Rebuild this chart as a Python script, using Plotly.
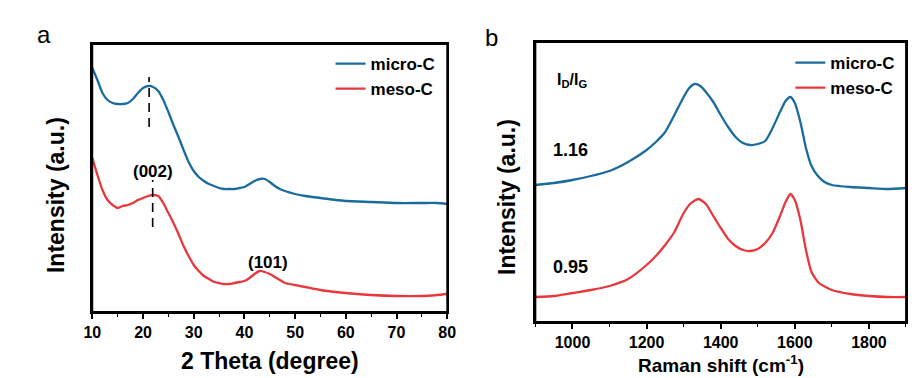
import plotly.graph_objects as go

# ---------------- data ----------------
# Panel a: XRD
xrd_theta = list(range(10, 49)) + [50, 52, 55, 58, 60, 65, 70, 75, 78, 80]
xrd_micro = [252, 240, 227, 220, 217, 216, 216, 217, 221, 227, 232,
             234, 233, 229, 220, 208, 195, 183, 170, 158, 149,
             143, 139, 136, 134, 132, 131, 131, 131, 132, 133,
             136, 139, 141, 141, 138, 134, 131, 129,
             126, 124, 122, 120, 119, 118, 117, 117, 117, 116]
xrd_meso = [162, 145, 130, 120, 115, 112, 114, 115, 117, 120, 122,
            124, 125, 124, 117, 107, 97, 86, 74, 64, 55,
            49, 44, 41, 38, 37, 36, 36, 37, 38, 39,
            42, 46, 49, 48, 46, 43, 40, 37,
            35, 33, 30, 28, 27, 25, 24, 24, 25, 26]
xrd_ticks = [10, 20, 30, 40, 50, 60, 70, 80]

# Panel b: Raman
raman_x_micro = [900, 950, 1000, 1050, 1100, 1150, 1200, 1225, 1250, 1275, 1300, 1315,
                 1330, 1345, 1360, 1380, 1400, 1420, 1440, 1460, 1480, 1500, 1520, 1540,
                 1560, 1575, 1588, 1600, 1615, 1630, 1645, 1660, 1680, 1700, 1750, 1800,
                 1850, 1900]
raman_micro = [145, 147, 150, 154, 159, 168, 180, 188, 198, 215, 233, 242,
               246, 244, 238, 228, 215, 203, 193, 187, 185, 186, 189, 202,
               218, 229, 233, 227, 208, 182, 164, 155, 148, 145, 143, 142,
               141, 142]
raman_x_meso = [900, 950, 1000, 1050, 1100, 1150, 1200, 1225, 1250, 1275, 1300, 1320,
                1340, 1360, 1380, 1400, 1420, 1440, 1460, 1480, 1500, 1520, 1540, 1560,
                1575, 1588, 1600, 1615, 1630, 1645, 1665, 1700, 1750, 1800, 1850, 1900]
raman_meso = [33, 34, 37, 40, 44, 51, 65, 74, 85, 98, 117, 127,
              131, 126, 114, 102, 91, 84, 80, 79, 81, 87, 97, 114,
              128, 136, 130, 110, 80, 58, 47, 40, 36, 34, 33, 33]
raman_ticks = [1000, 1200, 1400, 1600, 1800]

series_names = ["micro-C", "meso-C"]
xrd_peaks = ["(002)", "(101)"]
ratios = ["1.16", "0.95"]

BLUE = "#1A6B9E"
RED = "#E8383D"
FONT = "Liberation Sans, Arial, sans-serif"

W, H = 915, 378
def px(v):
    return v / W
def py(v):
    return 1 - v / H

fig = go.Figure()
fig.add_trace(go.Scatter(x=xrd_theta, y=xrd_micro, mode="lines", name=series_names[0],
                         line=dict(color=BLUE, width=2.3, shape="spline", smoothing=0.6),
                         xaxis="x", yaxis="y", legend="legend"))
fig.add_trace(go.Scatter(x=xrd_theta, y=xrd_meso, mode="lines", name=series_names[1],
                         line=dict(color=RED, width=2.3, shape="spline", smoothing=0.6),
                         xaxis="x", yaxis="y", legend="legend"))
fig.add_trace(go.Scatter(x=raman_x_micro, y=raman_micro, mode="lines", name=series_names[0],
                         line=dict(color=BLUE, width=2.3, shape="spline", smoothing=0.6),
                         xaxis="x2", yaxis="y2", legend="legend2"))
fig.add_trace(go.Scatter(x=raman_x_meso, y=raman_meso, mode="lines", name=series_names[1],
                         line=dict(color=RED, width=2.3, shape="spline", smoothing=0.6),
                         xaxis="x2", yaxis="y2", legend="legend2"))

axis_common = dict(showline=True, linecolor="black", linewidth=1.8, mirror=True,
                   showgrid=False, zeroline=False)

tickfont = dict(family=FONT, size=16, color="black", weight="bold")

fig.update_layout(
    width=W, height=H,
    margin=dict(l=0, r=0, t=0, b=0),
    paper_bgcolor="white", plot_bgcolor="white",
    showlegend=True,
    xaxis=dict(domain=[px(85), px(447)], range=[10, 80], anchor="y",
               tickmode="array", tickvals=xrd_ticks,
               ticktext=[f"<b>{t}</b>" for t in xrd_ticks],
               ticks="outside", ticklen=5, tickwidth=1.6, tickcolor="black",
               minor=dict(ticks="outside", ticklen=3, tickwidth=1.4, tickcolor="black", dtick=5, tick0=10),
               tickfont=tickfont, **axis_common),
    yaxis=dict(domain=[py(312), py(44)], range=[8, 276], anchor="x",
               showticklabels=False, ticks="", **axis_common),
    xaxis2=dict(domain=[px(537), 1.0], range=[900, 1900], anchor="y2",
                tickmode="array", tickvals=raman_ticks,
                ticktext=[f"<b>{t}</b>" for t in raman_ticks],
                ticks="outside", ticklen=5, tickwidth=1.6, tickcolor="black",
                minor=dict(ticks="outside", ticklen=3, tickwidth=1.4, tickcolor="black", dtick=100, tick0=900),
                tickfont=tickfont, **axis_common),
    yaxis2=dict(domain=[py(322), py(42)], range=[8, 288], anchor="x2",
                showticklabels=False, ticks="", **axis_common),
    legend=dict(x=px(328), y=py(46), xanchor="left", yanchor="top",
                bgcolor="rgba(0,0,0,0)", tracegroupgap=0, itemwidth=30,
                font=dict(family=FONT, size=17, color="black", weight="bold")),
    legend2=dict(x=px(797), y=py(45), xanchor="left", yanchor="top",
                 bgcolor="rgba(0,0,0,0)", tracegroupgap=0, itemwidth=30,
                 font=dict(family=FONT, size=17, color="black", weight="bold")),
)

# plot frames
for xr, yr in (("x", "y"), ("x2", "y2")):
    fig.add_shape(type="rect", xref=f"{xr} domain", yref=f"{yr} domain", x0=0, x1=1, y0=0, y1=1,
                  line=dict(color="black", width=1.8), fillcolor="rgba(0,0,0,0)", layer="above")

# dashed peak markers
fig.add_shape(type="line", xref="x", yref="y", x0=21.2, x1=21.2, y0=193, y1=243,
              line=dict(color="black", width=1.6, dash="9px,6px"))
fig.add_shape(type="line", xref="x", yref="y", x0=21.9, x1=21.9, y0=93, y1=140,
              line=dict(color="black", width=1.6, dash="9px,6px"))

def A(x, y, text, font, xref="paper", yref="paper", **kw):
    d = dict(x=x, y=y, xref=xref, yref=yref, text=text, showarrow=False, font=font,
             xanchor="center", yanchor="middle")
    d.update(kw)
    return d

bold17 = dict(family=FONT, size=17, color="black", weight="bold")
ann = [
    A(22.0, 149, xrd_peaks[0], bold17, xref="x", yref="y"),
    A(44.6, 58, xrd_peaks[1], bold17, xref="x", yref="y"),
    A(px(573), py(150), ratios[0], dict(family=FONT, size=18, color="black", weight="bold")),
    A(px(573), py(267), ratios[1], dict(family=FONT, size=18, color="black", weight="bold")),
    A(px(557), py(80), "I<sub>D</sub>/I<sub>G</sub>", dict(family=FONT, size=16, color="black", weight="bold"),
      xanchor="left"),
    A(px(36), py(35), "a", dict(family=FONT, size=24, color="black")),
    A(px(492), py(37), "b", dict(family=FONT, size=24, color="black")),
    A(px(266), py(361), "2 Theta (degree)", dict(family=FONT, size=23, color="black", weight="bold")),
    A(px(726), py(377), "Raman shift (cm<sup>-1</sup>)", dict(family=FONT, size=19, color="black", weight="bold"),
      yanchor="bottom", borderpad=0),
    A(px(48), py(195), "Intensity (a.u.)", dict(family=FONT, size=23, color="black", weight="bold"),
      textangle=-90),
    A(px(508), py(197), "Intensity (a.u.)", dict(family=FONT, size=23, color="black", weight="bold"),
      textangle=-90),
]
fig.update_layout(annotations=ann)

fig.write_html(
    "out.html",
    config={"displayModeBar": False},
    post_script="document.body.style.margin='0';document.body.style.overflow='hidden';",
)
